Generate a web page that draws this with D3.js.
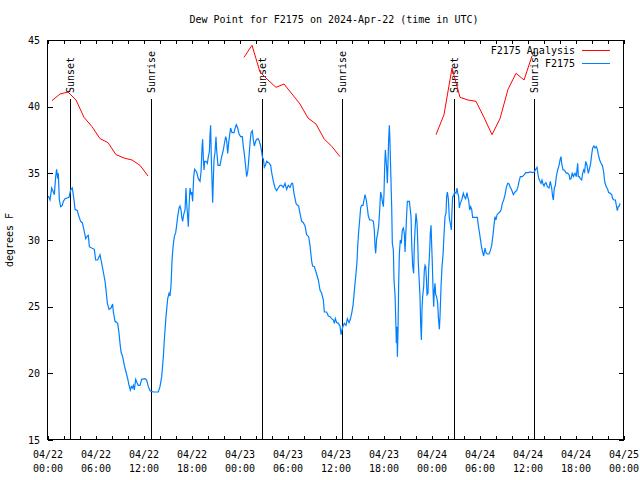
<!DOCTYPE html>
<html><head><meta charset="utf-8">
<script src="https://cdn.jsdelivr.net/npm/d3@7/dist/d3.min.js"></script>
<style>
body{margin:0;background:#fff}
text{font-family:"DejaVu Sans Mono",monospace;font-size:10px;fill:#000}
</style>
</head><body>
<svg id="chart" width="640" height="480"></svg>
<script>
const titleText = "Dew Point for F2175 on 2024-Apr-22 (time in UTC)";
const yLabel = "degrees F";
const seriesNames = ["F2175 Analysis", "F2175"];

// Hours since 2024-04-22 00:00 UTC
const analysisHours = [0.5,1.5,2.5,3.5,4.5,5.5,6.5,7.5,8.5,9.5,10.5,11.5,12.5,13.5,
  24.5,25.5,26.5,27.5,28.5,29.5,30.5,31.5,32.5,33.5,34.5,35.5,36.5,37.5,
  48.5,49.5,50.5,51.5,52.5,53.5,54.5,55.5,56.5,57.5,58.5,59.5,60.5];
const analysisDewPt = [40.45,40.95,41.1,40.5,39.2,38.5,37.6,37.3,36.4,36.15,36.0,35.6,34.8,null,
  43.7,44.6,42.6,42.0,41.45,41.7,40.95,40.2,39.15,38.7,37.6,37.0,36.25,null,
  37.9,39.4,42.9,40.7,40.5,40.4,39.2,37.9,39.1,41.3,42.5,42.0,43.8];

const obsHours = [0.04,0.25,0.46,0.67,0.79,0.96,1.08,1.21,1.29,1.42,1.58,1.79,1.92,2.13,2.63,2.83,3.04,3.25,3.38,3.67,3.79,4.08,4.29,4.5,4.71,4.92,5.04,5.17,5.46,5.79,5.96,6.21,6.5,6.63,6.79,6.96,7.13,7.25,7.42,7.63,7.88,8.08,8.17,8.38,8.71,8.88,9.0,9.13,9.33,9.54,9.75,9.96,10.13,10.29,10.42,10.54,10.67,10.79,10.96,11.13,11.29,11.5,11.71,12.13,12.33,12.54,12.75,13.17,13.79,14.0,14.21,14.42,14.54,14.75,14.96,15.13,15.25,15.38,15.5,15.63,15.79,15.96,16.08,16.21,16.38,16.5,16.63,16.71,16.83,16.96,17.13,17.25,17.33,17.46,17.54,17.63,17.75,17.88,17.96,18.08,18.21,18.33,
18.58,18.79,19.0,19.13,19.25,19.33,19.42,19.5,19.58,19.75,19.92,20.04,20.17,20.25,20.33,20.42,20.5,20.58,20.67,20.75,20.88,21.0,21.08,21.25,21.5,21.71,21.92,22.04,22.21,22.33,22.46,22.58,22.71,22.83,23.0,23.25,23.42,23.54,23.71,23.88,24.08,24.29,24.42,24.58,24.75,24.83,24.96,25.08,25.25,25.38,25.54,25.67,25.79,25.96,26.08,26.29,26.42,26.58,26.71,26.83,26.92,27.04,27.17,27.33,27.67,27.83,27.96,28.17,28.38,28.58,28.79,29.0,29.21,29.42,29.63,29.83,30.04,30.25,30.46,30.58,30.75,31.0,31.17,31.33,31.5,31.71,31.92,32.13,32.33,32.58,32.75,32.96,33.08,33.29,33.5,33.79,34.0,34.21,34.42,34.54,34.83,35.04,35.25,35.46,35.67,35.79,35.92,36.08,36.29,36.5,
36.63,36.75,36.88,37.04,37.25,37.42,37.63,37.79,37.96,38.13,38.25,38.38,38.5,38.63,38.71,38.83,38.96,39.08,39.21,39.38,39.5,39.63,39.79,39.92,40.04,40.21,40.46,40.67,40.79,40.88,40.96,41.08,41.21,41.33,41.46,41.58,41.71,41.79,41.92,42.0,42.08,42.17,42.25,42.33,42.42,42.5,42.58,42.67,42.75,42.83,42.96,43.04,43.17,43.25,43.38,43.46,43.54,43.63,43.67,43.75,43.83,43.92,44.04,44.17,44.29,44.42,44.54,44.63,44.71,44.83,44.92,45.04,45.17,45.29,45.38,45.46,45.58,45.71,45.79,45.88,46.0,46.13,46.21,46.29,46.42,46.5,46.58,46.67,46.75,46.83,46.96,47.04,47.13,47.21,47.29,47.38,47.5,47.58,47.71,47.79,47.88,47.96,48.04,48.13,48.21,48.29,48.38,48.46,48.58,48.71,48.79,48.92,49.0,49.13,49.25,49.38,49.5,49.63,
49.75,49.83,49.92,50.04,50.17,50.29,50.42,50.5,50.58,50.71,50.83,51.0,51.13,51.21,51.33,51.42,51.54,51.71,51.92,52.04,52.21,52.38,52.46,52.58,52.71,52.83,52.96,53.08,53.38,53.67,53.79,53.92,54.04,54.21,54.33,54.46,54.63,54.75,54.92,55.13,55.29,55.46,55.63,55.75,55.88,56.0,56.13,56.29,56.46,56.63,56.79,56.96,57.13,57.29,57.46,57.63,57.75,57.96,58.17,58.38,58.58,58.75,58.88,59.04,59.29,59.54,59.71,60.04,60.29,60.54,60.79,60.96,61.13,61.25,61.38,61.5,61.63,61.75,61.88,62.0,62.13,62.25,62.42,62.63,62.79,62.96,63.08,63.17,63.29,63.42,63.54,63.71,63.88,64.04,64.13,64.21,64.38,64.54,64.75,64.96,65.13,65.25,65.38,65.54,65.67,65.88,66.04,66.21,66.29,66.42,66.54,66.71,66.83,66.96,67.08,67.21,67.38,67.54,67.71,67.83,67.96,68.08,68.25,68.38,68.54,68.67,68.79,68.96,69.13,69.29,69.46,69.54,69.63,69.79,69.96,70.08,70.29,70.46,70.58,70.75,70.92,71.04,71.17,71.29,71.42,71.5];
const obsDewPt = [33.3,33.0,33.9,33.6,33.4,34.75,35.3,34.6,35.0,33.0,32.5,32.6,32.9,33.1,33.2,33.75,33.9,33.0,32.3,32.2,31.9,31.4,31.3,30.75,30.1,30.3,30.35,29.5,29.4,29.3,28.5,28.5,28.9,28.5,28.0,27.45,26.9,26.25,25.25,24.8,24.9,25.2,24.6,23.9,23.75,23.0,22.25,21.6,21.25,20.6,20.1,19.6,19.1,18.75,19.0,18.9,19.1,18.75,19.55,19.3,19.1,19.1,19.55,19.6,19.5,19.0,18.7,18.6,18.6,19.0,19.75,21.25,22.5,24.25,25.6,26.0,25.8,26.6,28.4,29.5,30.25,30.55,31.1,31.75,32.4,32.55,32.25,31.75,31.4,31.9,32.25,33.9,32.75,31.75,31.0,32.5,33.9,33.4,33.6,32.9,34.75,35.3,
35.1,34.6,34.4,35.1,36.9,37.55,36.1,35.25,35.9,35.9,35.75,36.25,36.6,37.9,38.6,36.0,34.5,32.8,34.6,36.0,36.6,37.75,36.75,35.6,35.6,36.25,36.75,37.2,37.75,37.5,36.5,37.25,37.9,38.4,38.05,38.05,38.45,38.65,38.4,37.95,37.75,37.75,37.0,36.25,35.25,34.75,35.1,35.9,37.25,38.05,38.2,37.5,37.05,37.4,37.55,37.6,37.4,37.05,36.6,36.1,36.1,35.45,35.6,35.9,35.75,35.6,35.05,34.4,33.9,33.7,33.9,34.1,34.1,33.95,34.25,33.8,34.1,33.95,34.25,34.25,33.5,32.75,32.6,32.55,32.0,31.4,31.3,31.05,30.4,30.25,29.6,28.4,28.05,28.0,27.6,27.0,26.25,26.0,25.5,24.6,24.6,24.3,24.25,24.1,24.0,23.75,24.1,23.8,23.75,23.55,
22.9,23.25,23.55,23.75,23.6,24.1,23.8,24.05,24.5,25.1,25.9,26.75,27.5,28.4,29.5,30.6,31.5,32.4,32.6,32.6,33.0,33.4,33.0,32.4,31.8,31.5,31.5,31.4,30.75,29.5,29.0,30.1,30.5,31.0,32.25,33.6,33.25,32.9,32.5,33.5,35.4,36.75,36.1,35.4,34.25,35.75,37.5,38.6,37.25,35.4,32.5,29.75,29.25,27.0,25.9,24.25,22.25,23.5,21.25,23.1,26.6,29.0,30.0,29.75,30.75,30.9,30.5,29.1,30.25,31.9,32.9,32.9,32.9,32.25,31.75,29.75,28.1,27.5,29.6,30.75,32.0,31.25,30.0,28.25,26.75,25.75,23.75,22.5,24.75,25.75,26.5,27.75,28.1,28.0,27.25,25.9,26.0,27.75,29.25,30.5,31.1,29.6,28.25,26.25,25.0,26.25,26.75,25.9,25.75,25.25,24.25,23.3,24.25,26.5,28.0,28.9,30.4,31.75,
32.0,33.25,33.6,33.1,31.6,31.25,30.75,32.25,33.25,33.3,33.6,33.5,33.9,33.55,33.25,32.4,32.75,33.0,33.5,33.25,33.1,33.55,33.25,33.0,32.25,32.5,32.3,31.7,31.7,31.7,31.1,30.6,30.1,29.4,29.1,28.8,29.4,29.05,28.95,28.95,29.2,29.6,30.4,31.1,31.75,31.5,31.9,32.0,32.1,32.25,32.75,33.0,33.4,33.95,34.25,34.2,34.0,33.75,33.4,33.6,33.7,34.0,34.4,34.75,34.75,34.9,35.05,35.05,35.1,35.05,35.1,35.3,35.45,34.9,34.55,34.4,34.25,34.5,34.2,34.05,34.25,34.3,34.0,33.9,34.4,33.9,33.25,33.0,33.9,34.1,34.75,35.25,35.6,36.1,36.25,35.75,35.25,35.25,35.05,35.0,34.9,34.55,34.6,35.05,34.75,35.0,34.75,35.75,34.75,34.75,34.6,34.5,35.0,35.25,35.1,35.9,35.6,35.0,35.4,35.75,36.4,36.9,37.05,36.9,37.0,36.8,36.4,36.0,35.75,35.6,35.1,34.6,34.25,34.0,33.8,33.55,33.5,33.4,33.1,33.0,33.0,32.6,32.2,32.5,32.55,32.75];

const sunsetHours = [2.79, 26.79, 50.79];
const sunriseHours = [12.91, 36.79, 60.79];

const xLabelHours = [0,6,12,18,24,30,36,42,48,54,60,66,72];
const xLabelDates = ["04/22","04/22","04/22","04/22","04/23","04/23","04/23","04/23","04/24","04/24","04/24","04/24","04/25"];
const xLabelTimes = ["00:00","06:00","12:00","18:00","00:00","06:00","12:00","18:00","00:00","06:00","12:00","18:00","00:00"];
const xMinorHours = d3.range(0, 73, 2);
const yTickValues = [15,20,25,30,35,40,45];

const colors = {analysis: "#ff0000", obs: "#0080ff"};

const svg = d3.select("#chart");
const L = 48, R = 624, T = 40, B = 440;
const x = d3.scaleLinear().domain([0,72]).range([L, R]);
const y = d3.scaleLinear().domain([15,45]).range([B, T]);

svg.append("rect").attr("width",640).attr("height",480).attr("fill","#fff");

// title
svg.append("text").attr("x", 334).attr("y", 23).attr("text-anchor","middle").text(titleText);
// y label
svg.append("text").attr("transform","translate(13,240) rotate(-90)").attr("text-anchor","middle").text(yLabel);

// axes ticks
const gB = svg.append("g").attr("transform",`translate(0,${B})`)
  .call(d3.axisBottom(x).tickValues(xMinorHours).tickSizeInner(-4).tickSizeOuter(0).tickFormat(""));
const gT = svg.append("g").attr("transform",`translate(0,${T})`)
  .call(d3.axisTop(x).tickValues(xMinorHours).tickSizeInner(-4).tickSizeOuter(0).tickFormat(""));
const gL = svg.append("g").attr("transform",`translate(${L},0)`)
  .call(d3.axisLeft(y).tickValues(yTickValues).tickSizeInner(-5).tickSizeOuter(0).tickPadding(8).tickFormat(d3.format("d")));
const gR = svg.append("g").attr("transform",`translate(${R},0)`)
  .call(d3.axisRight(y).tickValues(yTickValues).tickSizeInner(-5).tickSizeOuter(0).tickFormat(""));
svg.selectAll(".domain").remove();
svg.selectAll(".tick line").attr("stroke","#000").attr("shape-rendering","crispEdges");
gL.selectAll("text").attr("font-family",null).attr("font-size",null).attr("fill","#000");

// x labels (two lines)
const xl = svg.append("g").selectAll("text").data(xLabelHours).join("text")
  .attr("x", d => x(d)).attr("y", 458).attr("text-anchor","middle");
xl.append("tspan").attr("x", d => x(d)).text((d,i) => xLabelDates[i]);
xl.append("tspan").attr("x", d => x(d)).attr("dy", 14).text((d,i) => xLabelTimes[i]);

// border
svg.append("rect").attr("x",L-0.5).attr("y",T+0.5).attr("width",R-L).attr("height",B-T-1)
  .attr("fill","none").attr("stroke","#000").attr("shape-rendering","crispEdges");

// sun lines
const sunEvents = sunsetHours.map(h => ({h, label:"Sunset"})).concat(sunriseHours.map(h => ({h, label:"Sunrise"})));
const sg = svg.append("g");
sg.selectAll("line").data(sunEvents).join("line")
  .attr("x1", d => Math.round(x(d.h))+0.5).attr("x2", d => Math.round(x(d.h))+0.5)
  .attr("y1", 99).attr("y2", B).attr("stroke","#000").attr("shape-rendering","crispEdges");
sg.selectAll("text").data(sunEvents).join("text")
  .attr("transform", d => `translate(${Math.round(x(d.h))+0.5},93) rotate(-90)`)
  .attr("dy","0.35em").text(d => d.label);

// series
const lineGen = d3.line().defined(d => d[1] != null).x(d => x(d[0])).y(d => y(d[1]));
svg.append("path").datum(analysisHours.map((h,i) => [h, analysisDewPt[i]]))
  .attr("fill","none").attr("stroke",colors.analysis).attr("stroke-width",1).attr("d", lineGen);
svg.append("path").datum(obsHours.map((h,i) => [h, obsDewPt[i]]))
  .attr("fill","none").attr("stroke",colors.obs).attr("stroke-width",1.2).attr("stroke-linejoin","miter").attr("d", lineGen);

// legend
const leg = svg.append("g");
[[seriesNames[0], colors.analysis, 50],[seriesNames[1], colors.obs, 63]].forEach(([name, c, yy]) => {
  leg.append("text").attr("x", 575).attr("y", yy).attr("dy","0.35em").attr("text-anchor","end").text(name);
  leg.append("line").attr("x1", 582).attr("x2", 610).attr("y1", yy+0.5).attr("y2", yy+0.5)
    .attr("stroke", c).attr("shape-rendering","crispEdges");
});
</script>
</body></html>
